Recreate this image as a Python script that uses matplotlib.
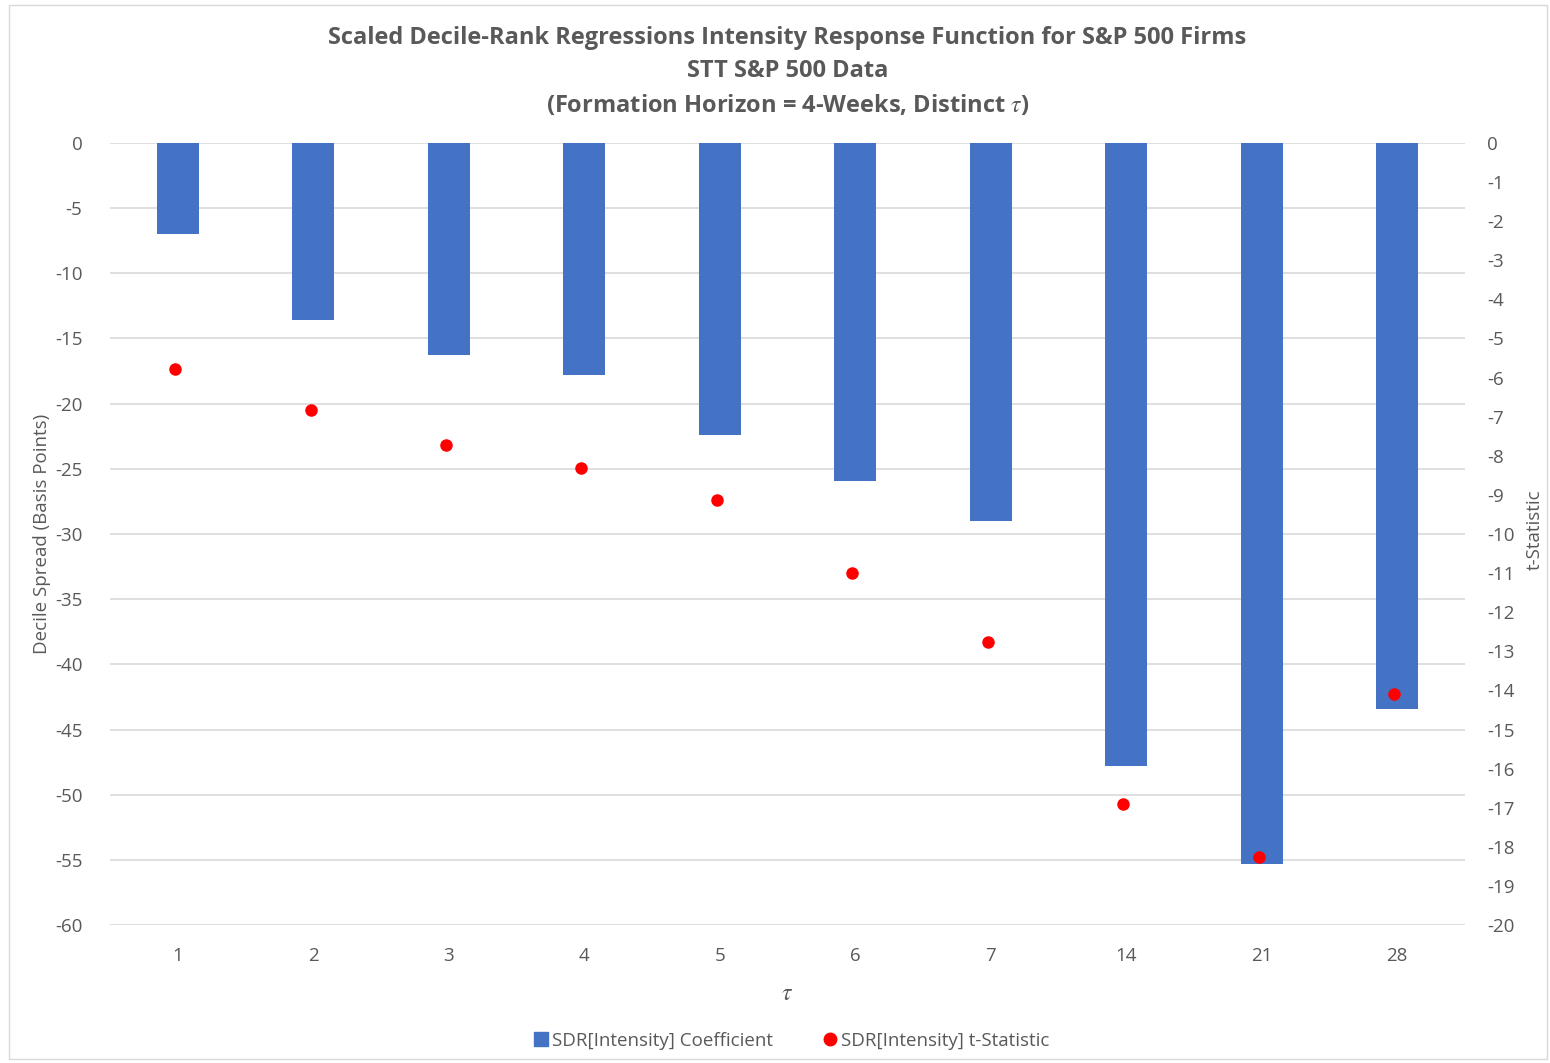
import matplotlib.pyplot as plt
from matplotlib.patches import Rectangle
from matplotlib.lines import Line2D

plt.rcParams['font.family'] = ['Open Sans', 'DejaVu Sans']
plt.rcParams['mathtext.fontset'] = 'stix'
plt.rcParams['axes.unicode_minus'] = False

# data
taus = ['1', '2', '3', '4', '5', '6', '7', '14', '21', '28']
coef = [-7.0, -13.6, -16.3, -17.8, -22.4, -25.9, -29.0, -47.8, -55.3, -43.4]
tstat = [-5.78, -6.83, -7.72, -8.31, -9.13, -11.0, -12.76, -16.9, -18.26, -14.09]

bar_color = '#4472C4'
txt = '#595959'
grid = '#D9D9D9'

fig = plt.figure(figsize=(15.5, 10.63), dpi=100)
fig.patches.append(Rectangle((0.006, 0.004), 0.992, 0.991, transform=fig.transFigure,
                             fill=False, edgecolor='#D9D9D9', linewidth=1))

ax = fig.add_axes([0.071, 0.1298, 0.874, 0.7357])
ax2 = ax.twinx()

x = list(range(len(taus)))
ax.bar(x, coef, width=0.31, color=bar_color, zorder=2)
ax2.plot([i - 0.02 for i in x], tstat, 'o', color='#FF0000', markersize=8, zorder=3)

ax.set_xlim(-0.5, len(taus) - 0.5)
ax.set_ylim(-60, 0)
ax.set_yticks(range(-60, 1, 5))
ax2.set_ylim(-20, 0)
ax2.set_yticks(range(-20, 1, 1))

ax.set_xticks(x)
ax.set_xticklabels(taus)
ax.yaxis.grid(True, color=grid, linewidth=1.2, zorder=0)
ax.set_axisbelow(True)

for a in (ax, ax2):
    for s in a.spines.values():
        s.set_visible(False)
    a.tick_params(length=0, labelsize=13.5, labelcolor=txt)
ax.tick_params(axis='y', pad=20)
ax.tick_params(axis='x', pad=16)
ax2.tick_params(axis='y', pad=16)
for lbl in ax2.get_yticklabels():
    lbl.set_horizontalalignment('left')

fig.text(0.027, 0.498, 'Decile Spread (Basis Points)', rotation=90, ha='center', va='center',
         fontsize=13.5, color=txt)
fig.text(0.990, 0.502, 't-Statistic', rotation=90, ha='center', va='center',
         fontsize=13.5, color=txt)
ax.set_xlabel(r'$\tau$', fontsize=17, color=txt, labelpad=12)

title_kw = dict(ha='center', va='center', fontsize=17, fontweight='bold', color=txt)
fig.text(0.508, 0.9645, 'Scaled Decile-Rank Regressions Intensity Response Function for S&P 500 Firms', **title_kw)
fig.text(0.508, 0.9335, 'STT S&P 500 Data', **title_kw)
fig.text(0.508, 0.901, r'(Formation Horizon = 4-Weeks, Distinct $\tau$)', **title_kw)

handles = [Line2D([], [], marker='s', linestyle='', color=bar_color, markersize=10),
           Line2D([], [], marker='o', linestyle='', color='#FF0000', markersize=9)]
leg = fig.legend(handles, ['SDR[Intensity] Coefficient', 'SDR[Intensity] t-Statistic'],
                 loc='center', bbox_to_anchor=(0.51, 0.021), ncol=2, frameon=False,
                 fontsize=13.5, handletextpad=0.1, columnspacing=2.5, handlelength=1)
for t in leg.get_texts():
    t.set_color(txt)

fig.savefig('out.png', dpi=100)
